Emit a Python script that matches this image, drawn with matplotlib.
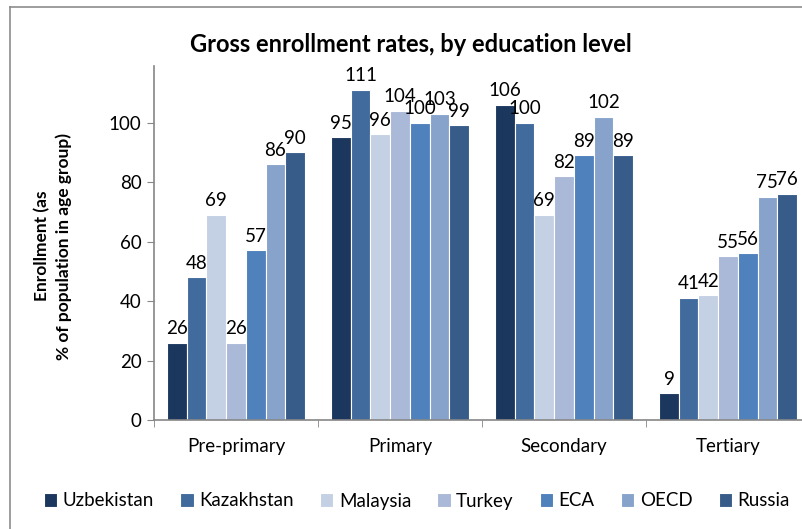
import matplotlib.pyplot as plt
import numpy as np
from matplotlib.lines import Line2D

levels = ["Pre-primary", "Primary", "Secondary", "Tertiary"]
countries = ["Uzbekistan", "Kazakhstan", "Malaysia", "Turkey", "ECA", "OECD", "Russia"]
uzbekistan = [26, 95, 106, 9]
kazakhstan = [48, 111, 100, 41]
malaysia = [69, 96, 69, 42]
turkey = [26, 104, 82, 55]
eca = [57, 100, 89, 56]
oecd = [86, 103, 102, 75]
russia = [90, 99, 89, 76]
series = [uzbekistan, kazakhstan, malaysia, turkey, eca, oecd, russia]
colors = ["#1c375e", "#416a9d", "#c4d0e3", "#aab9d7", "#4f81bd", "#87a3cc", "#375c8a"]

plt.rcParams["font.family"] = ["Lato", "DejaVu Sans"]
fig = plt.figure(figsize=(8.03, 5.29), dpi=100)
W, H = 803, 529

# outer frame of the chart box
fig.add_artist(Line2D([10 / W, 10 / W], [0, 1 - 7 / H], color="#8c8c8c", lw=1.2))
fig.add_artist(Line2D([10 / W, 1], [1 - 7 / H, 1 - 7 / H], color="#8c8c8c", lw=1.2))

ax = fig.add_axes([154 / W, 1 - 420 / H, (810 - 154) / W, (420 - 66) / H])
x = np.arange(len(levels))
pitch = 0.12
for i, (name, vals, c) in enumerate(zip(countries, series, colors)):
    pos = x + (i - 3) * pitch
    bars = ax.bar(pos, vals, width=pitch, color=c, edgecolor="white", linewidth=0.8, label=name)
    for b, v in zip(bars, vals):
        ax.annotate(str(v), (b.get_x() + b.get_width() / 2, v), xytext=(0, 4),
                    textcoords="offset points", ha="center", va="bottom", fontsize=13.5)

ax.set_xlim(-0.5, 3.5)
ax.set_ylim(0, 119)
ax.set_yticks(range(0, 101, 20))
ax.set_xticks(x)
ax.set_xticklabels(levels, fontsize=13.5)
ax.set_xticks(np.arange(-0.5, 4.0, 1.0), minor=True)
ax.tick_params(axis="x", which="major", length=0, pad=13)
ax.tick_params(axis="x", which="minor", length=5, color="#868686", direction="out")
ax.tick_params(axis="y", length=5, color="#868686", labelsize=13.5, pad=4)
for side in ["top", "right"]:
    ax.spines[side].set_visible(False)
for side in ["left", "bottom"]:
    ax.spines[side].set_color("#868686")
    ax.spines[side].set_linewidth(1.2)
ax.spines["bottom"].set_zorder(3)

fig.text(411 / W, 1 - 45 / H, "Gross enrollment rates, by education level",
         ha="center", va="center", fontsize=17, fontweight="bold")
fig.text(53 / W, 1 - 246 / H, "Enrollment (as\n% of population in age group)",
         ha="center", va="center", rotation=90, fontsize=12.5, fontweight="bold",
         linespacing=1.4)

fig.legend(*ax.get_legend_handles_labels(), loc="center", ncol=7,
           bbox_to_anchor=(417 / W, 1 - 501 / H), frameon=False, fontsize=13.5,
           handlelength=0.7, handleheight=0.7, handletextpad=0.3, columnspacing=1.4)

fig.savefig("out.png", dpi=100)
